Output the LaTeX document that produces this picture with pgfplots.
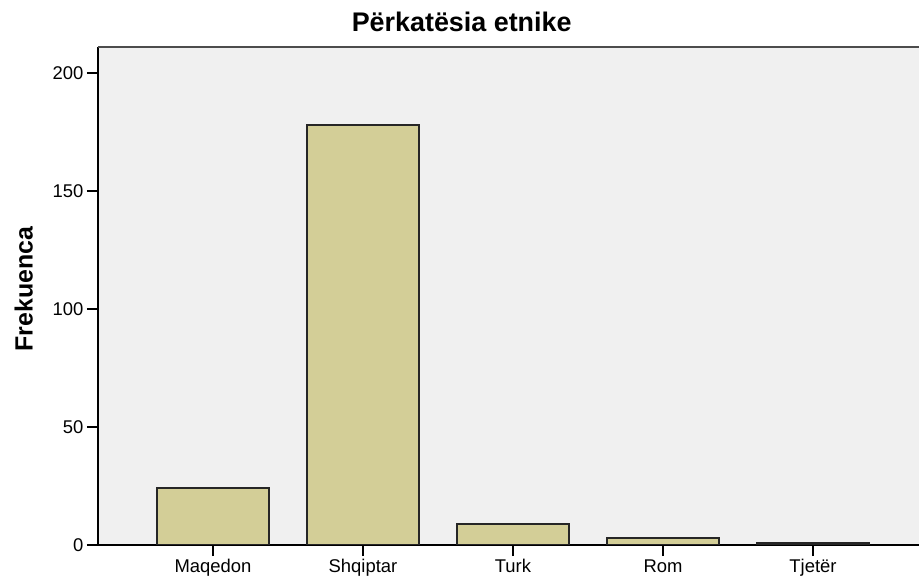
\documentclass[border=0pt]{standalone}
\usepackage{fontspec}
\setmainfont{Liberation Sans}
\usepackage{pgfplots}
\pgfplotsset{compat=1.18}
\usetikzlibrary{calc}
\definecolor{bg}{RGB}{240,240,240}
\definecolor{barc}{RGB}{211,206,151}
\begin{document}
\begin{tikzpicture}
\begin{axis}[
  scale only axis, width=821bp, height=498bp,
  xmin=-0.767, xmax=4.707, ymin=0, ymax=211,
  axis x line*=bottom, axis y line*=left,
  axis line style={line width=1.8bp, black},
  axis background/.style={fill=bg},
  xtick={0,1,2,3,4}, xticklabels={Maqedon,Shqiptar,Turk,Rom,Tjetër},
  ytick={0,50,100,150,200},
  tick align=outside, major tick length=11bp,
  tick style={line width=1.7bp, black},
  ticklabel style={font=\fontsize{18.5}{20}\selectfont},
  /pgf/number format/assume math mode=true,
  ylabel={\bfseries Frekuenca},
  ylabel style={font=\fontsize{25}{28}\selectfont, at={($(rel axis cs:0,0.514)+(-65bp,0)$)}, anchor=south, inner sep=0pt},
  title={\bfseries Përkatësia etnike},
  title style={font=\fontsize{27}{30}\selectfont, at={(rel axis cs:0.443,1)}, anchor=base, inner sep=0pt, yshift=10bp},
]
\addplot[ybar, bar width=0.75, fill=barc, draw=black!85, line width=1.8bp] coordinates {(0,24) (1,178) (2,9) (3,3) (4,1)};
\draw[line width=1.8bp, black!70] (rel axis cs:0,1) -- (rel axis cs:1,1);
\coordinate (ll) at (rel axis cs:0,0);
\coordinate (ur) at (rel axis cs:1,1);
\end{axis}
\pgfresetboundingbox
\path ($(ll)+(-98bp,-36bp)$) rectangle ($(ur)+(0,47bp)$);
\end{tikzpicture}
\end{document}
